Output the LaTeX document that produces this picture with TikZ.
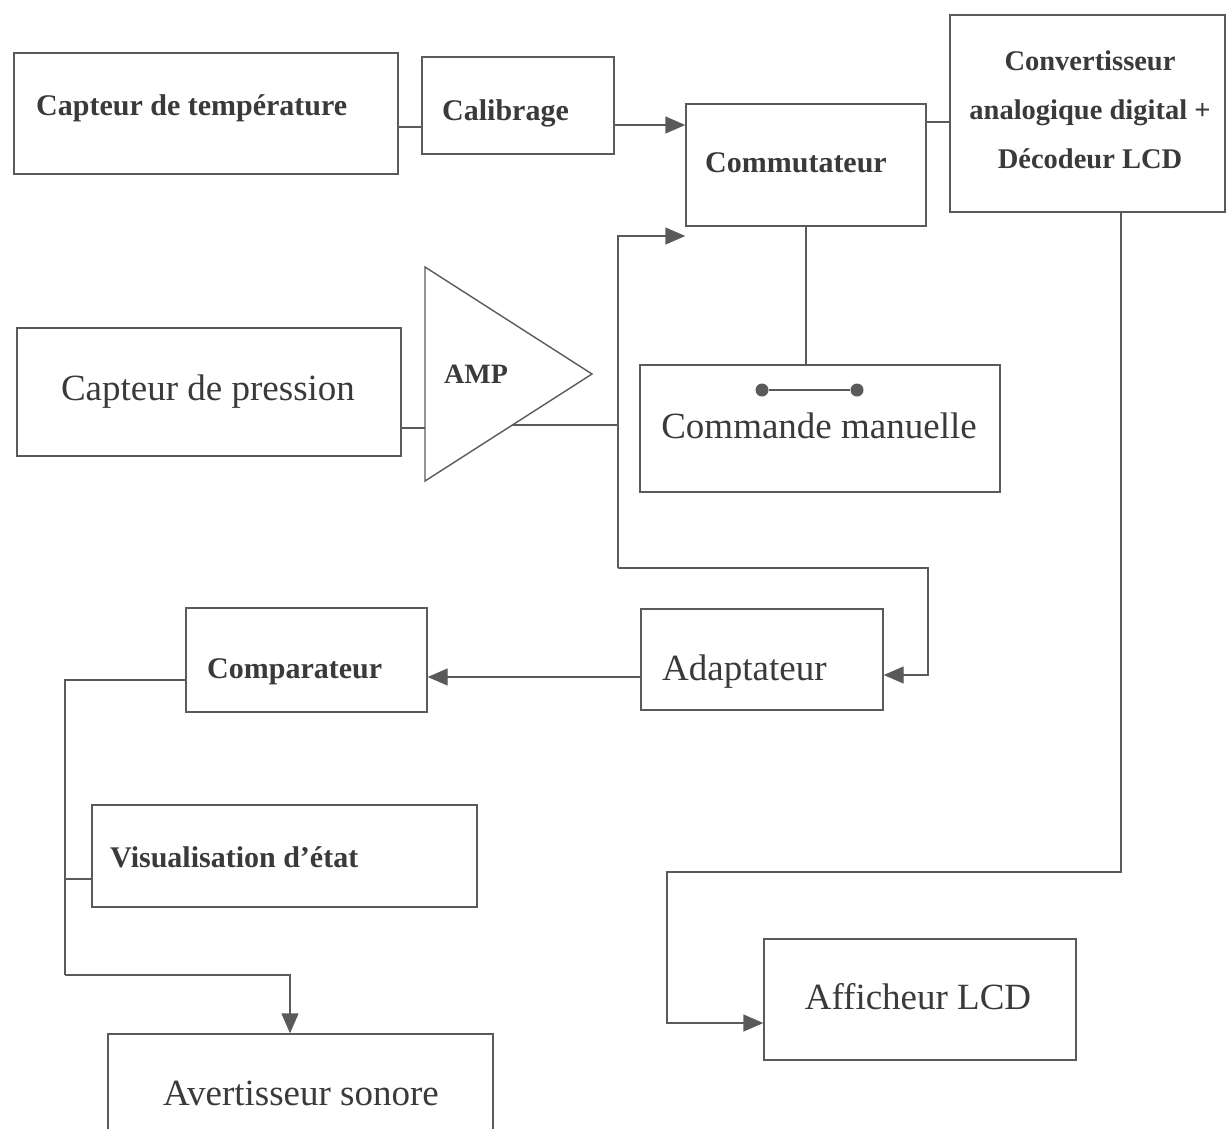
\documentclass[tikz,border=0pt]{standalone}
\usepackage{fontspec}
\setmainfont{Liberation Serif}
\usetikzlibrary{arrows.meta,positioning}

\definecolor{linegray}{HTML}{5A5A5A}
\definecolor{inkgray}{HTML}{3A3A3A}

\tikzset{
  box/.style={draw=linegray, line width=1.4, inner sep=0},
  wire/.style={draw=linegray, line width=1.4},
  feed/.style={wire, -{Triangle[length=20pt, width=17pt]}},
  smalltxt/.style={font=\fontsize{30}{36}\selectfont\bfseries, text=inkgray, inner sep=0},
  bigtxt/.style={font=\fontsize{37}{44}\selectfont, text=inkgray, inner sep=0},
  dot/.style={circle, fill=linegray, inner sep=0, minimum size=13},
}

\begin{document}
\begin{tikzpicture}[x=1pt, y=-1pt]
\useasboundingbox (0,0) rectangle (1227,1128);

% Boxes %
\node[box, minimum width=384, minimum height=121] (capt) at (206,113.5) {};
\node[box, minimum width=192, minimum height=97] (calib) at (518,105.5) {};
\node[box, minimum width=240, minimum height=122] (comm) at (806,165) {};
\node[box, minimum width=275, minimum height=197] (conv) at (1087.5,113.5) {};
\node[box, minimum width=384, minimum height=128] (press) at (209,392) {};
\node[box, minimum width=360, minimum height=127] (cmd) at (820,428.5) {};
\node[box, minimum width=242, minimum height=101] (adapt) at (762,659.5) {};
\node[box, minimum width=241, minimum height=104] (compar) at (306.5,660) {};
\node[box, minimum width=385, minimum height=102] (visu) at (284.5,856) {};
\node[box, minimum width=312, minimum height=121] (affich) at (920,999.5) {};
\node[box, minimum width=385, minimum height=116] (avert) at (300.5,1092) {};

% Amplifier %
\coordinate (amptop) at (425,267);
\coordinate (ampbot) at (425,481);
\coordinate (amptip) at (592,374);
\coordinate (ampin) at (425,428);
\coordinate (ampout) at (512,425);
\draw[wire] (amptop) -- (amptip) -- (ampbot) -- cycle;

% Texts %
\node[smalltxt, anchor=base west] (capttxt) at (36,115) {Capteur de température};
\node[smalltxt, anchor=base west] (calibtxt) at (442,120) {Calibrage};
\node[smalltxt, anchor=base] (commtxt) at (796,172) {Commutateur};
\node[smalltxt, font=\fontsize{28.5}{49}\selectfont\bfseries, align=center] (convtxt) at (1090,109.5)
  {Convertisseur\\analogique digital +\\Décodeur LCD};
\node[bigtxt, anchor=base] (presstxt) at (208,400) {Capteur de pression};
\node[smalltxt, font=\fontsize{28}{34}\selectfont\bfseries, anchor=base west] (amptxt) at (444,383) {AMP};
\node[bigtxt, anchor=base] (cmdtxt) at (819,438) {Commande manuelle};
\node[bigtxt, anchor=base west] (adapttxt) at (662,680) {Adaptateur};
\node[smalltxt, anchor=base west] (compartxt) at (207,678) {Comparateur};
\node[smalltxt, anchor=base west] (visutxt) at (110,867) {Visualisation d’état};
\node[bigtxt, anchor=base] (affichtxt) at (918,1009) {Afficheur LCD};
\node[bigtxt, anchor=base] (averttxt) at (301,1105) {Avertisseur sonore};

% Switch %
\node[dot] (sw1) at (762,390) {};
\node[dot] (sw2) at (857,390) {};
\draw[wire] (sw1) -- (sw2);

% Bends %
\coordinate (fbtop) at (618,236);
\coordinate (fbbot) at (618,568);
\coordinate (fbright) at (928,568);
\coordinate (fbend) at (928,675);
\coordinate (lcda) at (1121,872);
\coordinate (lcdb) at (667,872);
\coordinate (lcdc) at (667,1023);
\coordinate (cmpa) at (65,680);
\coordinate (cmpb) at (65,879);
\coordinate (cmpc) at (65,975);
\coordinate (cmpd) at (290,975);

% Edges %
\draw[wire] (capt.east |- 0,127) -- (calib.west |- 0,127);
\draw[feed] (calib.east |- 0,125) -- (comm.west |- 0,125);
\draw[wire] (comm.east |- 0,122) -- (conv.west |- 0,122);
\draw[wire] (comm.south) -- (cmd.north -| comm.south);

\draw[wire] (press.east |- ampin) -- (ampin);
\draw[wire] (ampout) -- (fbtop |- ampout);
\draw[feed] (fbbot) -- (fbtop) -- (comm.west |- fbtop);
\draw[feed] (fbbot) -- (fbright) -- (fbend) -- (adapt.east |- fbend);

\draw[feed] (adapt.west |- 0,677) -- (compar.east |- 0,677);
\draw[wire] (compar.west |- cmpa) -- (cmpa) -- (cmpc);
\draw[wire] (cmpb) -- (visu.west |- cmpb);
\draw[feed] (cmpc) -- (cmpd) -- (avert.north -| cmpd);

\draw[feed] (conv.south -| lcda) -- (lcda) -- (lcdb) -- (lcdc) -- (affich.west |- lcdc);

\end{tikzpicture}
\end{document}
